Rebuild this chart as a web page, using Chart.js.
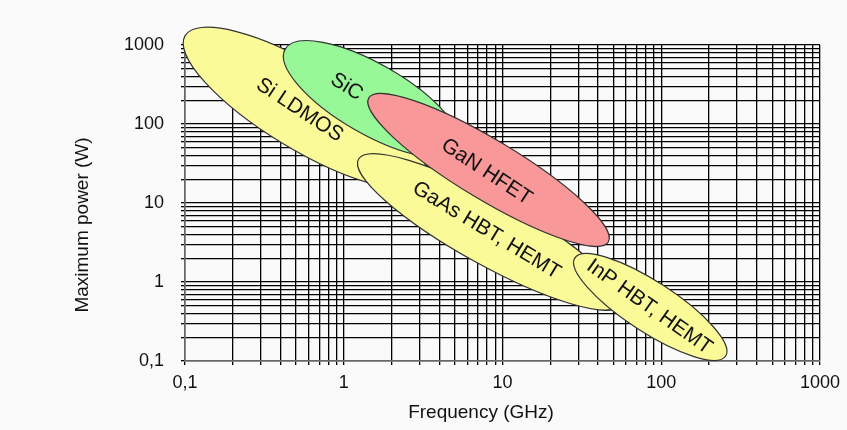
<!DOCTYPE html>
<html>
<head>
<meta charset="utf-8">
<script src="https://cdn.jsdelivr.net/npm/chart.js@4/dist/chart.umd.min.js"></script>
<style>
  html, body { margin: 0; padding: 0; background: #fafafa; overflow: hidden; }
  canvas { display: block; }
</style>
</head>
<body>
<canvas id="chart" width="847" height="430"></canvas>
<script>
"use strict"

/*====================================================================
Data
====================================================================*/
// technology regions, drawn in this order (later ones lie on top)
const regions = ["Si LDMOS", "SiC", "GaAs HBT, HEMT", "GaN HFET", "InP HBT, HEMT"]
// centre of each region (GHz, W)
const centerFreq = [0.569, 1.50, 8.28, 8.17, 85.3]
const centerPower = [160, 207, 4.30, 26.2, 0.483]
// end of the long axis of each region (GHz, W)
const endFreq = [3.23, 5.26, 55.4, 46.4, 254.6]
const endPower = [19.5, 48.3, 0.517, 3.21, 0.1156]
// short axis / long axis
const widthRatio = [0.30, 0.35, 0.22, 0.214, 0.28]
// where each name is written (GHz, W)
const labelFreq = [0.528, 1.044, 7.93, 7.93, 84.1]
const labelPower = [150, 294, 4.5, 24.7, 0.483]
const fillColors = ["#fafa98", "#98f898", "#fafa98", "#f99898", "#fafa98"]

// axis ticks
const decades = [0.1, 1, 10, 100, 1000]
const steps = [1, 2, 3, 4, 5, 6, 7, 8, 9]
const xTitle = "Frequency (GHz)"
const yTitle = "Maximum power (W)"

const FONT = "'Liberation Sans', Arial, sans-serif"

/*====================================================================
Functions
====================================================================*/
function allTicks(){
    let t = []
    for (let d of decades){
        for (let s of steps){
            let v = +(d * s).toPrecision(6)
            if (v <= 1000) t.push({value: v})
        }
    }
    return t
}

function tickLabel(v){
    if (decades.indexOf(v) < 0) return ""
    return v === 0.1 ? "0,1" : String(v)
}

// draws the ellipses, their names and the axis titles
const regionPlugin = {
    id: "regions",
    afterDatasetsDraw(chart){
        const ctx = chart.ctx
        const xs = chart.scales.x, ys = chart.scales.y
        let angles = []
        for (let i = 0; i < regions.length; i++){
            let cx = xs.getPixelForValue(centerFreq[i]), cy = ys.getPixelForValue(centerPower[i])
            let ex = xs.getPixelForValue(endFreq[i]), ey = ys.getPixelForValue(endPower[i])
            let a = Math.hypot(ex - cx, ey - cy)
            angles[i] = Math.atan2(ey - cy, ex - cx)
            ctx.save()
            ctx.beginPath()
            ctx.ellipse(cx, cy, a, a * widthRatio[i], angles[i], 0, 2 * Math.PI)
            ctx.fillStyle = fillColors[i]
            ctx.fill()
            ctx.lineWidth = 1.2
            ctx.strokeStyle = "#333"
            ctx.stroke()
            ctx.restore()
        }
        for (let i = 0; i < regions.length; i++){
            ctx.save()
            ctx.translate(xs.getPixelForValue(labelFreq[i]), ys.getPixelForValue(labelPower[i]))
            ctx.rotate(angles[i] + 0.04)
            ctx.fillStyle = "#111"
            ctx.font = "21px " + FONT
            ctx.textAlign = "center"
            ctx.textBaseline = "middle"
            ctx.fillText(regions[i], 0, 0)
            ctx.restore()
        }
        // axis titles
        ctx.save()
        ctx.fillStyle = "#111"
        ctx.font = "19px " + FONT
        ctx.textAlign = "center"
        ctx.textBaseline = "middle"
        ctx.fillText(xTitle, 481, 413)
        ctx.translate(83, 225)
        ctx.rotate(-Math.PI / 2)
        ctx.fillText(yTitle, 0, 0)
        ctx.restore()
    }
}

const gridStyle = {color: "#000", lineWidth: 1.3, tickLength: 4, tickColor: "#000"}

let newChart = new Chart(document.getElementById("chart"), {
    type: "scatter",
    data: {datasets: []},
    options: {
        responsive: false,
        animation: false,
        devicePixelRatio: 1,
        layout: {padding: {top: 45, right: 26, left: 0, bottom: 0}},
        plugins: {legend: {display: false}, tooltip: {enabled: false}},
        scales: {
            x: {
                type: "logarithmic", min: 0.1, max: 1000,
                afterBuildTicks: s => { s.ticks = allTicks() },
                afterFit: s => { s.height = 69 },
                grid: gridStyle,
                border: {color: "#666", width: 1.5},
                ticks: {autoSkip: false, maxRotation: 0, padding: 7, color: "#111",
                        font: {family: FONT, size: 18}, callback: tickLabel}
            },
            y: {
                type: "logarithmic", min: 0.1, max: 1000,
                afterBuildTicks: s => { s.ticks = allTicks() },
                afterFit: s => { s.width = 185 },
                grid: gridStyle,
                border: {color: "#666", width: 1.5},
                ticks: {autoSkip: false, padding: 17, color: "#111",
                        font: {family: FONT, size: 18}, callback: tickLabel}
            }
        }
    },
    plugins: [regionPlugin]
})
</script>
</body>
</html>
